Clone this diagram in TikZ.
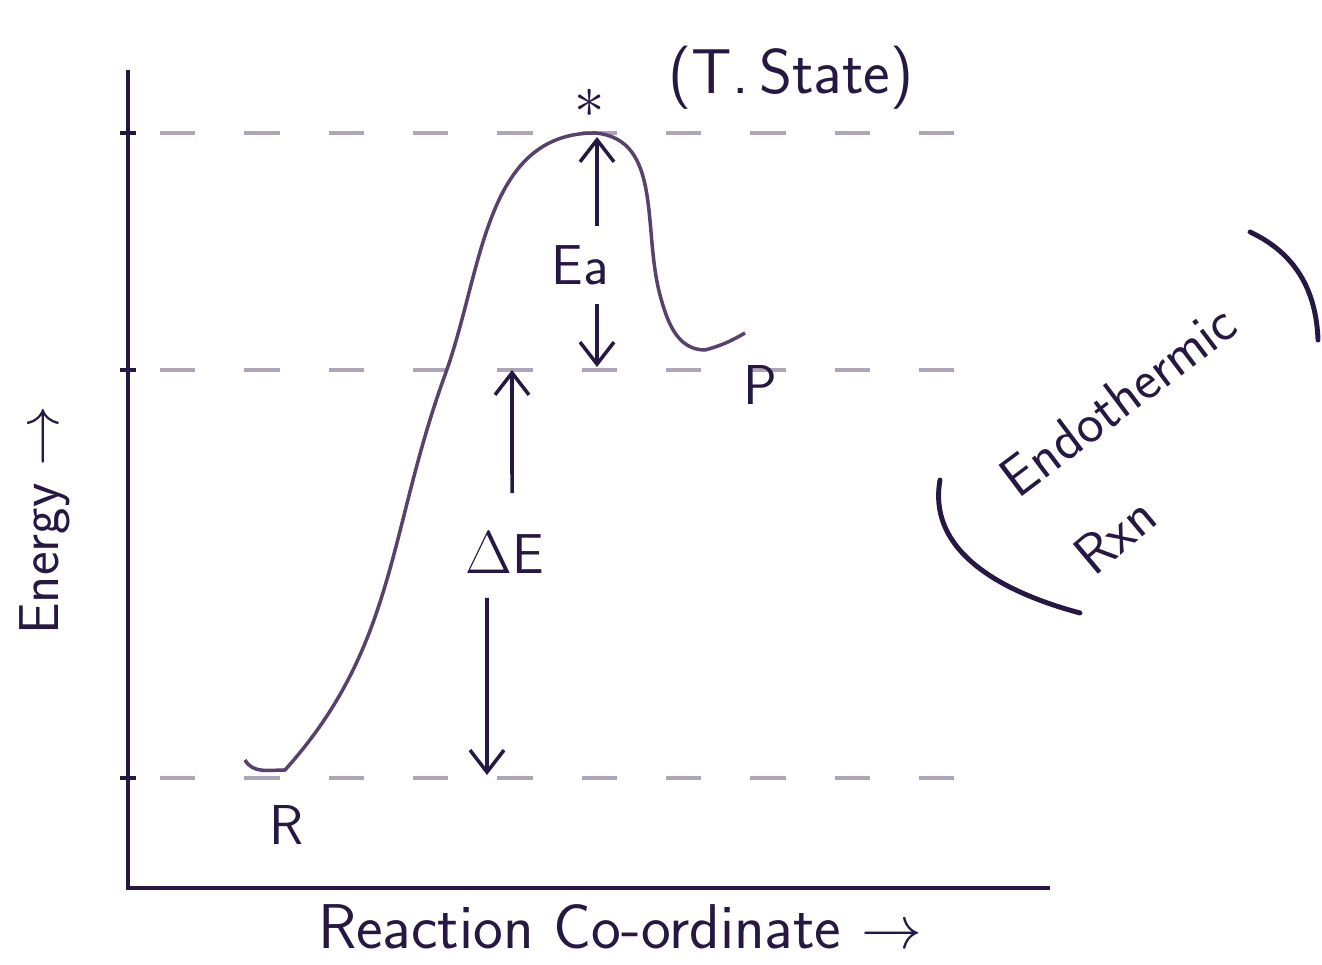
\documentclass[tikz,border=0pt]{standalone}
\usepackage{xcolor}
\usepackage{amsmath}
\usepackage{tikz}
\usetikzlibrary{arrows.meta, positioning, calc}

\definecolor{ink}{RGB}{38,24,66}
\definecolor{pen}{RGB}{86,66,108}
\definecolor{faint}{RGB}{175,165,185}

\begin{document}
\begin{tikzpicture}[
    every node/.style={font=\sffamily\fontsize{16}{18}\selectfont, text=ink},
    axis/.style={draw=ink, line width=1.1pt},
    level/.style={draw=faint, dashed, dash pattern=on 10pt off 14pt, line width=0.9pt},
    curve/.style={draw=pen, line width=1pt},
    arrow/.style={-{Straight Barb[length=2.2mm, width=3.4mm]}, draw=ink, line width=1pt},
    label/.style={inner sep=1pt},
    big/.style={font=\sffamily\fontsize{18}{20}\selectfont},
    bracket/.style={draw=ink, line width=1.4pt, line cap=round}
]
\useasboundingbox (0,0) rectangle (13.22,9.65);

% axes
\coordinate (O) at (1.28,0.77);
\coordinate (ytop) at (1.28,8.95);
\coordinate (xend) at (10.5,0.77);
\draw[axis] (ytop) -- (O) -- (xend);

% energy levels
\coordinate (ts) at (5.95,8.32);
\coordinate (pl) at (7.05,6.15);
\coordinate (rl) at (2.85,1.95);
\draw[axis] (1.2,8.32) -- (1.36,8.32);
\draw[axis] (1.2,5.95) -- (1.36,5.95);
\draw[axis] (1.2,1.87) -- (1.36,1.87);
\draw[level] (1.6,8.32) -- (9.7,8.32);
\draw[level] (1.6,5.95) -- (10.0,5.95);
\draw[level] (1.6,1.87) -- (9.7,1.87);

% reaction profile
\draw[curve] (2.45,2.05) to[out=-60,in=180] (rl)
    to[out=48,in=-110] (4.45,5.9)
    to[out=70,in=180] (ts)
    to[out=-5,in=105] (6.6,6.7)
    to[out=-75,in=180] (pl)
    to[out=15,in=210] (7.45,6.32);

\node[label] (star) at (5.9,8.62) {$\ast$};
\node[label, big, right=0.55cm of star, yshift=0.25cm] (tstate) {(T.\,State)};
\node[label] (R) at (2.87,1.4) {R};
\node[label] (P) at (7.6,5.8) {P};

% activation energy
\node[label] (Ea) at (5.8,7.0) {Ea};
\draw[arrow] ($(Ea.north)+(0.17,0.15)$) -- (5.97,8.28);
\draw[arrow] ($(Ea.south)+(0.17,-0.15)$) -- (5.97,5.98);

% enthalpy change
\node[label] (dE) at (5.05,4.12) {$\Delta$E};
\draw[arrow] ($(dE.north)+(0.07,0.35)$) -- (5.12,5.95);
\draw[arrow] ($(dE.south)+(-0.18,-0.2)$) -- (4.87,1.9);

% axis titles
\node[label, rotate=90] (ylab) at (0.45,4.45) {Energy $\rightarrow$};
\node[label, big] (xlab) at (6.2,0.38) {Reaction Co-ordinate $\rightarrow$};

% note
\node[label, rotate=37] (endo) at (11.18,5.65) {Endothermic};
\node[label, rotate=40] (rxn) at (11.15,4.3) {Rxn};
\draw[bracket] (12.5,7.33) to[out=-25,in=92] (13.18,6.25);
\draw[bracket] (9.4,4.85) to[out=-100,in=165] (10.8,3.52);
\end{tikzpicture}
\end{document}
